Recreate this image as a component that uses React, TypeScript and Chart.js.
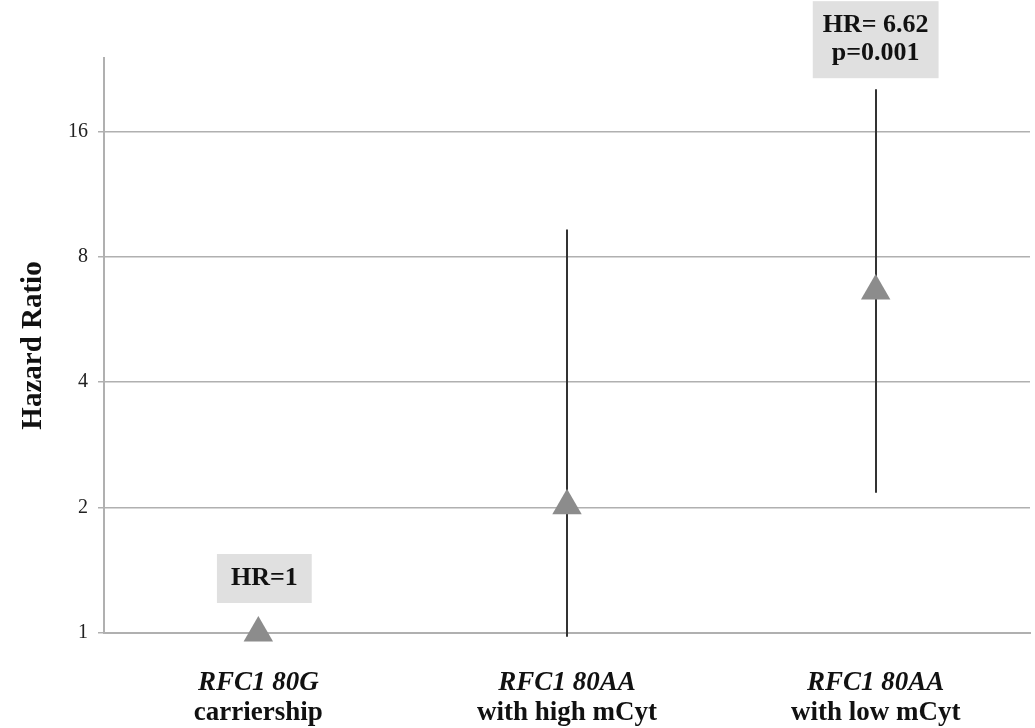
import React, { useEffect, useRef } from "react";
import { Chart, registerables } from "chart.js";

Chart.register(...registerables);

const labelLine1 = ["RFC1 80G", "RFC1 80AA", "RFC1 80AA"];
const labelLine2 = ["carriership", "with high mCyt", "with low mCyt"];
const hazardRatio = [1, 2.02, 6.62];
const ciLower: (number | null)[] = [null, 0.98, 2.17];
const ciUpper: (number | null)[] = [null, 9.3, 20.2];
const yTicks = [1, 2, 4, 8, 16];
const annotations: string[][] = [["HR=1"], [], ["HR= 6.62", "p=0.001"]];

const SERIF = "'Liberation Serif', 'Times New Roman', serif";

const errorBarPlugin = {
  id: "errorBars",
  beforeDatasetsDraw(chart: any) {
    const { ctx, scales } = chart;
    const x = scales.x;
    const y = scales.y;
    ctx.save();
    ctx.strokeStyle = "#333333";
    ctx.lineWidth = 2;
    for (let i = 0; i < hazardRatio.length; i++) {
      const lo = ciLower[i];
      const hi = ciUpper[i];
      if (lo == null || hi == null) continue;
      const px = Math.round(x.getPixelForValue(i));
      ctx.beginPath();
      ctx.moveTo(px, y.getPixelForValue(lo));
      ctx.lineTo(px, y.getPixelForValue(hi));
      ctx.stroke();
    }
    ctx.restore();
  },
};

const textPlugin = {
  id: "customText",
  afterDraw(chart: any) {
    const { ctx, scales, chartArea } = chart;
    const x = scales.x;
    const y = scales.y;
    ctx.save();
    ctx.fillStyle = "#111";
    ctx.textAlign = "center";
    ctx.textBaseline = "alphabetic";
    for (let i = 0; i < labelLine1.length; i++) {
      const px = x.getPixelForValue(i);
      ctx.font = `italic bold 27px ${SERIF}`;
      ctx.fillText(labelLine1[i], px, chartArea.bottom + 57);
      ctx.font = `bold 27px ${SERIF}`;
      ctx.fillText(labelLine2[i], px, chartArea.bottom + 87);
    }
    for (let i = 0; i < annotations.length; i++) {
      const lines = annotations[i];
      if (!lines.length) continue;
      const px = x.getPixelForValue(i);
      const anchor =
        ciUpper[i] != null
          ? y.getPixelForValue(ciUpper[i] as number) - 11
          : y.getPixelForValue(hazardRatio[i]) - 30;
      ctx.font = `bold 26px ${SERIF}`;
      let maxW = 0;
      lines.forEach((l) => (maxW = Math.max(maxW, ctx.measureText(l).width)));
      const lineH = 28;
      const padX = i === 0 ? 14 : 10;
      const padTop = 13;
      const padBottom = 18;
      const boxW = maxW + padX * 2;
      const boxH = padTop + 18 + (lines.length - 1) * lineH + padBottom;
      const cx = px + (i === 0 ? 6 : 0);
      const top = anchor - boxH;
      ctx.fillStyle = "#e0e0e0";
      ctx.fillRect(cx - boxW / 2, top, boxW, boxH);
      ctx.fillStyle = "#111";
      lines.forEach((l, k) => {
        ctx.fillText(l, cx, top + padTop + 18 + k * lineH);
      });
    }
    ctx.restore();
  },
};

export default function App() {
  const ref = useRef<HTMLCanvasElement | null>(null);
  useEffect(() => {
    document.body.style.margin = "0";
    const canvas = ref.current;
    if (!canvas) return;
    const chart = new Chart(canvas, {
      type: "line",
      data: {
        labels: labelLine1,
        datasets: [
          {
            data: hazardRatio,
            showLine: false,
            pointStyle: "triangle",
            pointRadius: 17,
            pointHoverRadius: 17,
            pointBackgroundColor: "#8c8c8c",
            pointBorderColor: "#8c8c8c",
            pointBorderWidth: 0,
            clip: false as any,
          },
        ],
      },
      options: {
        responsive: false,
        animation: false,
        layout: {
          autoPadding: false,
          padding: { top: 58, right: 5, left: 0, bottom: 0 },
        },
        plugins: {
          legend: { display: false },
          tooltip: { enabled: false },
        },
        scales: {
          x: {
            type: "category",
            offset: true,
            grid: { display: false },
            border: { display: true, color: "#b0b0b0", width: 2 },
            ticks: { display: false },
            afterFit: (s: any) => {
              s.height = 95;
            },
          },
          y: {
            type: "logarithmic",
            min: 1,
            max: 24,
            afterBuildTicks: (s: any) => {
              s.ticks = yTicks.map((v) => ({ value: v }));
            },
            grid: {
              color: "#b0b0b0",
              lineWidth: 1.5,
              tickLength: 6,
              drawTicks: true,
            },
            border: { display: true, color: "#b0b0b0", width: 2 },
            ticks: {
              padding: 10,
              color: "#222",
              font: { family: SERIF, size: 20 },
              callback: (v: any) => String(v),
            },
            title: {
              display: true,
              text: "Hazard Ratio",
              color: "#111",
              font: { family: SERIF, size: 29, weight: "bold" },
              padding: { top: 16, bottom: 0 },
            },
            afterFit: (s: any) => {
              s.width = 104;
            },
          },
        },
      },
      plugins: [errorBarPlugin, textPlugin],
    });
    return () => chart.destroy();
  }, []);
  return (
    <div style={{ width: 1035, height: 728 }}>
      <canvas ref={ref} width={1035} height={728} />
    </div>
  );
}
